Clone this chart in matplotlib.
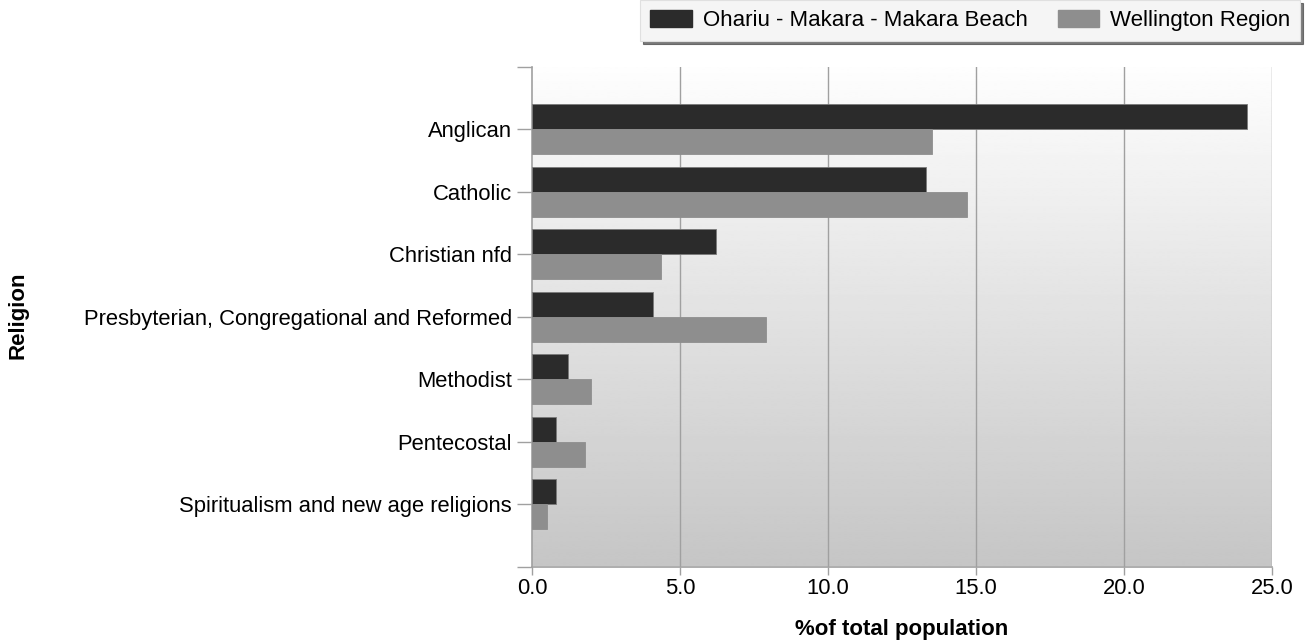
import matplotlib
matplotlib.use("Agg")
import matplotlib.pyplot as plt
import numpy as np
from matplotlib.patches import Patch

categories = ["Anglican", "Catholic", "Christian nfd",
              "Presbyterian, Congregational and Reformed", "Methodist",
              "Pentecostal", "Spiritualism and new age religions"]
ohariu = [24.15, 13.3, 6.2, 4.1, 1.2, 0.8, 0.8]
wellington = [13.5, 14.7, 4.35, 7.9, 2.0, 1.8, 0.5]
series_names = ["Ohariu - Makara - Makara Beach", "Wellington Region"]
xticks = [0.0, 5.0, 10.0, 15.0, 20.0, 25.0]

plt.rcParams['font.family'] = ['Liberation Sans', 'DejaVu Sans']

W, H = 1312, 643
fig = plt.figure(figsize=(W/100, H/100), dpi=100)
ax = fig.add_axes([532/W, 1-566.5/H, (1272-532)/W, (566.5-67)/H])

# gradient background
grad = np.linspace(0.995, 0.775, 256).reshape(-1, 1)
ax.imshow(grad, cmap='gray', vmin=0, vmax=1, aspect='auto',
          extent=[0, 1, 0, 1], transform=ax.transAxes, zorder=0,
          interpolation='bilinear')

pos = np.arange(1, len(categories) + 1)
h = 0.4
ax.barh(pos - h/2, ohariu, height=h, color='#2b2b2b', edgecolor='#7a7a7a', linewidth=0.6, zorder=3)
ax.barh(pos + h/2, wellington, height=h, color='#8e8e8e', edgecolor='#8e8e8e', linewidth=0.6, zorder=3)

ax.set_xlim(0, 25)
ax.set_ylim(8, 0)
ax.set_yticks(pos)
ax.set_yticklabels(categories, fontsize=15.8)
ax.set_yticks([0, 8], minor=True)
ax.set_xticks(xticks)
ax.set_xticklabels([f"{v:.1f}" for v in xticks], fontsize=15.8)
for v in xticks[1:]:
    ax.axvline(v, color='#a0a0a0', linewidth=1.0, zorder=1)

for s in ['top', 'right']:
    ax.spines[s].set_visible(False)
for s in ['left', 'bottom']:
    ax.spines[s].set_color('#a0a0a0')
    ax.spines[s].set_linewidth(1.2)
ax.tick_params(axis='y', which='both', colors='#a0a0a0', length=11, width=1.0,
               labelcolor='black', pad=3.5)
ax.tick_params(axis='x', colors='#a0a0a0', length=6, width=1.0,
               labelcolor='black', pad=2)

fig.text(902/W, 1-630/H, "%of total population", fontsize=16, fontweight='bold',
         ha='center', va='center')
fig.text(18/W, 1-315/H, "Religion", rotation=90, fontsize=16, fontweight='bold',
         ha='center', va='center')

handles = [Patch(facecolor='#2b2b2b', edgecolor='#2b2b2b'),
           Patch(facecolor='#8e8e8e', edgecolor='#8e8e8e')]
leg = fig.legend(handles, series_names, loc='upper right', bbox_to_anchor=(1300/W, 1.0),
                 ncol=2, fontsize=16, frameon=True, fancybox=False,
                 shadow={'color': '#444444', 'alpha': 0.7},
                 handlelength=1.85, handleheight=0.81, handletextpad=0.5,
                 columnspacing=1.35, borderpad=0.45, borderaxespad=0.0)
leg.get_frame().set_facecolor('#f5f5f5')
leg.get_frame().set_edgecolor('#e0e0e0')
leg.get_frame().set_linewidth(0.8)

fig.savefig("out.png", dpi=100)
